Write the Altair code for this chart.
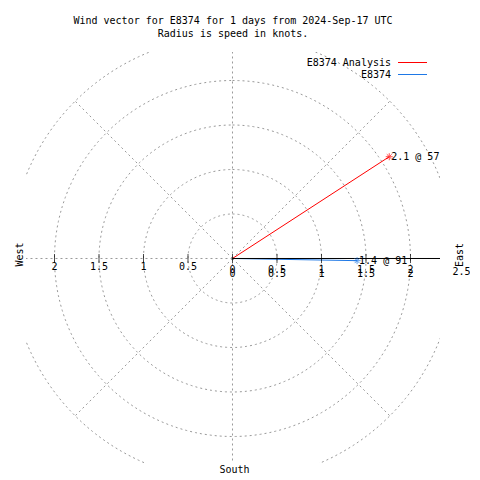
import numpy as np
import pandas as pd
import altair as alt

# ---- data ----
SERIES = ["E8374 Analysis", "E8374"]
SPEEDS = [2.1, 1.4]          # knots
DIRS = [57, 91]              # degrees (compass bearing)
COLORS = ["#ff0000", "#1e78e6"]

RINGS = [0.5, 1.0, 1.5, 2.0, 2.5]
SPOKES = [0, 45, 90, 135, 180, 225, 270, 315]
RIGHT_TICKS = [0, 0.5, 1, 1.5, 2]
RIGHT_LABELS = ["0", "0.5", "1", "1.5", "2"]
LEFT_TICKS = [0.5, 1, 1.5, 2]
LEFT_LABELS = ["0.5", "1", "1.5", "2"]
EDGE_LABEL = "2.5"
TITLE = ["Wind vector for E8374 for 1 days from 2024-Sep-17 UTC",
         "Radius is speed in knots."]

FONT = "DejaVu Sans Mono"
GRID = "#999999"

xs = alt.Scale(domain=[-2.3202, 2.3315], nice=False, zero=False)
ys = alt.Scale(domain=[-2.2978, 2.3202], nice=False, zero=False)
X = lambda f: alt.X(f, type="quantitative", scale=xs, axis=None)
Y = lambda f: alt.Y(f, type="quantitative", scale=ys, axis=None)

# ---- grid geometry ----
rows = []
for r in RINGS:
    for a in np.linspace(0, 360, 361):
        rows.append({"ring": r, "a": a, "x": r * np.sin(np.radians(a)), "y": r * np.cos(np.radians(a))})
rings_df = pd.DataFrame(rows)

srows = []
for s in SPOKES:
    for r in [0, 2.5]:
        srows.append({"spoke": s, "r": r, "x": r * np.sin(np.radians(s)), "y": r * np.cos(np.radians(s))})
spokes_df = pd.DataFrame(srows)

rings = alt.Chart(rings_df).mark_line(clip=True, color=GRID, strokeWidth=1, strokeDash=[2, 3]).encode(
    x=X("x"), y=Y("y"), detail="ring:N", order="a:Q")
spokes = alt.Chart(spokes_df).mark_line(clip=True, color=GRID, strokeWidth=1, strokeDash=[2, 3]).encode(
    x=X("x"), y=Y("y"), detail="spoke:N", order="r:Q")

# ---- vectors ----
vec_rows = []
for n, s, d in zip(SERIES, SPEEDS, DIRS):
    vec_rows.append({"name": n, "speed": 0.0, "dir": d, "step": 0})
    vec_rows.append({"name": n, "speed": s, "dir": d, "step": 1})
vec_df = pd.DataFrame(vec_rows)
tips_df = pd.DataFrame({"name": SERIES, "speed": SPEEDS, "dir": DIRS,
                        "label": [f"{s} @ {d}" for s, d in zip(SPEEDS, DIRS)]})

color = alt.Color("name:N", scale=alt.Scale(domain=SERIES, range=COLORS), legend=None)
calc = dict(vx="datum.speed * sin(datum.dir * PI / 180)", vy="datum.speed * cos(datum.dir * PI / 180)")

vlines = alt.Chart(vec_df).transform_calculate(**calc).mark_line(strokeWidth=1).encode(
    x=X("vx"), y=Y("vy"), color=color, detail="name:N", order="step:Q")

ASTER = "M-1,0L1,0M0,-1L0,1M-0.7,-0.7L0.7,0.7M-0.7,0.7L0.7,-0.7"
markers = alt.Chart(tips_df).transform_calculate(**calc).mark_point(
    shape=ASTER, size=49, strokeWidth=1, filled=False).encode(
    x=X("vx"), y=Y("vy"), color=color)
tip_text = alt.Chart(tips_df).transform_calculate(**calc).mark_text(
    align="left", baseline="middle", dx=2, dy=0.5, font=FONT, fontSize=10, color="black").encode(
    x=X("vx"), y=Y("vy"), text="label:N")

# ---- axis ----
axis_df = pd.DataFrame({"x0": [0.0], "x1": [2.5], "y0": [0.0]})
axis_line = alt.Chart(axis_df).mark_rule(clip=True, color="black", strokeWidth=1).encode(
    x=X("x0"), x2="x1:Q", y=Y("y0"))
ticks_df = pd.DataFrame({"v": RIGHT_TICKS + [-t for t in LEFT_TICKS], "z": 0.0})
ticks = alt.Chart(ticks_df).mark_tick(orient="vertical", size=9, thickness=1, color="black").encode(
    x=X("v"), y=Y("z"))

rl_df = pd.DataFrame({"v": RIGHT_TICKS, "t": RIGHT_LABELS, "z": 0.0})
ll_df = pd.DataFrame({"v": [-t for t in LEFT_TICKS], "t": LEFT_LABELS, "z": 0.0})
lab_kw = dict(align="center", baseline="middle", font=FONT, fontSize=10, color="black")
rlab1 = alt.Chart(rl_df).mark_text(dy=12, **lab_kw).encode(x=X("v"), y=Y("z"), text="t:N")
rlab2 = alt.Chart(rl_df).mark_text(dy=15.5, **lab_kw).encode(x=X("v"), y=Y("z"), text="t:N")
llab = alt.Chart(ll_df).mark_text(dy=8.5, **lab_kw).encode(x=X("v"), y=Y("z"), text="t:N")
edge = alt.Chart(pd.DataFrame({"v": [2.5], "t": [EDGE_LABEL], "z": 0.0})).mark_text(
    dx=6.5, dy=13.5, **lab_kw).encode(x=X("v"), y=Y("z"), text="t:N")

# rotated labels: dx runs along the text (upwards), dy runs to the right
comp_df = pd.DataFrame({"t": ["East", "West", "South"], "cx": [2.5, -2.5, 0.0], "cy": [0.0, 0.0, -2.5]})
east = alt.Chart(comp_df).transform_filter("datum.t == 'East'").mark_text(
    angle=270, dx=3.5, dy=5.5, **lab_kw).encode(x=X("cx"), y=Y("cy"), text="t:N")
west = alt.Chart(comp_df).transform_filter("datum.t == 'West'").mark_text(
    angle=270, dx=4, dy=10, **lab_kw).encode(x=X("cx"), y=Y("cy"), text="t:N")
south = alt.Chart(comp_df).transform_filter("datum.t == 'South'").mark_text(
    dx=2, dy=-11, **lab_kw).encode(x=X("cx"), y=Y("cy"), text="t:N")

# ---- legend (two entries) ----
leg_layers = []
for i, (n, c) in enumerate(zip(SERIES, COLORS)):
    df = pd.DataFrame({"name": [n]})
    yy = 10.5 + 12 * i
    leg_layers.append(alt.Chart(df).mark_text(align="right", baseline="middle", font=FONT, fontSize=10,
                                              color="black").encode(
        x=alt.value(365), y=alt.value(yy), text="name:N"))
    leg_layers.append(alt.Chart(df).mark_rule(strokeWidth=1, color=c).encode(
        x=alt.value(372), x2=alt.value(401), y=alt.value(yy)))

chart = alt.layer(
    rings, spokes, vlines, axis_line, ticks, markers, tip_text,
    rlab1, rlab2, llab, edge, east, west, south, *leg_layers
).properties(
    width=414, height=411,
    autosize=alt.AutoSizeParams(type="none"),
    padding={"left": 18, "top": 44, "right": 30, "bottom": 14},
    title=alt.TitleParams(TITLE, font=FONT, fontSize=10, fontWeight="normal", color="black",
                          anchor="middle", offset=13, lineHeight=13),
    background="white",
).configure_view(strokeWidth=0)

chart.save("out.html", embed_options={"renderer": "svg", "actions": False})
